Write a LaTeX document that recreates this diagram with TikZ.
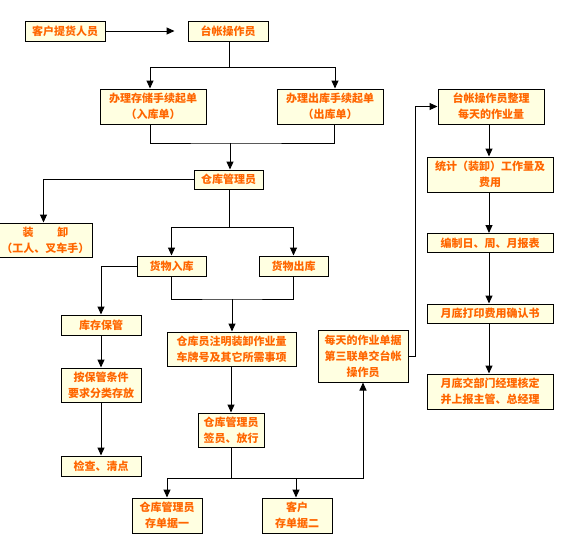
\documentclass[tikz,border=0pt]{standalone}
\usepackage{fontspec}
\newfontfamily\cjk{Noto Sans CJK SC}
\usetikzlibrary{arrows.meta}
\definecolor{txtor}{RGB}{255,102,0}
\definecolor{boxfill}{RGB}{255,255,225}
\tikzset{
  box/.style={draw=black, line width=1pt, fill=boxfill, inner sep=0pt, align=center,
    text=txtor, font=\cjk\bfseries\fontsize{11}{16}\selectfont},
  arr/.style={line width=1pt, -{Triangle[width=7pt,length=8pt]}},
  ln/.style={line width=1pt}
}
\begin{document}
\begin{tikzpicture}[x=1pt,y=-1pt]
\useasboundingbox (0,0) rectangle (578,539);
\fill[white] (0,0) rectangle (578,539);
% nodes
\node[box, minimum width=80, minimum height=20] (kh) at (65,31) {客户提货人员};
\node[box, minimum width=80, minimum height=20] (tz) at (228,31) {台帐操作员};
\node[box, minimum width=106, minimum height=35] (rk) at (153,106.5) {办理存储手续起单\\（入库单）};
\node[box, minimum width=106, minimum height=35] (ck) at (330,106.5) {办理出库手续起单\\（出库单）};
\node[box, minimum width=69, minimum height=19] (cg) at (228.5,179.5) {仓库管理员};
\node[box, minimum width=93, minimum height=34] (zx) at (45.5,240) {装\hspace{24pt}卸\\（工人、叉车手）};
\node[box, minimum width=69, minimum height=20] (hr) at (171.5,266) {货物入库};
\node[box, minimum width=69, minimum height=20] (hc) at (293.5,266) {货物出库};
\node[box, minimum width=80, minimum height=20] (kc) at (101,325) {库存保管};
\node[box, minimum width=80, minimum height=34] (ab) at (101,385) {按保管条件\\要求分类存放};
\node[box, minimum width=80, minimum height=20] (jc) at (101,466) {检查、清点};
\node[box, minimum width=129, minimum height=34] (zm) at (231.5,349) {仓库员注明装卸作业量\\车牌号及其它所需事项};
\node[box, minimum width=66, minimum height=34] (qy) at (231,430) {仓库管理员\\签员、放行};
\node[box, minimum width=70, minimum height=35] (d1) at (167,515.5) {仓库管理员\\存单据一};
\node[box, minimum width=70, minimum height=35] (d2) at (297,515.5) {客户\\存单据二};
\node[box, minimum width=90, minimum height=52] (mt) at (363,356) {每天的作业单据\\第三联单交台帐\\操作员};
\node[box, minimum width=106, minimum height=35] (zl) at (491,106.5) {台帐操作员整理\\每天的作业量};
\node[box, minimum width=126, minimum height=35] (tj) at (490,174.5) {统计（装卸）工作量及\\费用};
\node[box, minimum width=126, minimum height=19] (bb) at (490,243) {编制日、周、月报表};
\node[box, minimum width=126, minimum height=19] (yd) at (490,313.5) {月底打印费用确认书};
\node[box, minimum width=126, minimum height=35] (hd) at (490,391.5) {月底交部门经理核定\\并上报主管、总经理};
% junctions
\coordinate (j0) at (229,67);
\coordinate (j1) at (230,143);
\coordinate (j2) at (229.5,227);
\coordinate (j3) at (232,299);
\coordinate (j4) at (231,478);
% connectors
\draw[arr, shorten >=13pt] (kh.east) -- (tz.west);
\draw[ln] (tz.south -| j0) -- (j0);
\draw[arr] (j0) -| ([xshift=-3pt]rk.north);
\draw[arr] (j0) -| ([xshift=5pt]ck.north);
\draw[ln] ([xshift=-3pt]rk.south) |- (j1) -| ([xshift=4pt]ck.south);
\draw[arr] (j1) -- (cg.north -| j1);
\draw[arr] (cg.west) -| ([xshift=-2pt]zx.north);
\draw[ln] (cg.south -| j2) -- (j2);
\draw[arr] (j2) -| (hr.north);
\draw[arr] (j2) -| (hc.north);
\draw[arr] (hr.west) -| (kc.north);
\draw[ln] (hr.south) |- (j3) -| (hc.south);
\draw[arr] (j3) -- (zm.north -| j3);
\draw[arr] (kc) -- (ab);
\draw[arr] (ab) -- (jc);
\draw[arr] (zm.south -| qy) -- (qy.north);
\draw[ln] (qy.south) -- (j4);
\draw[arr] (j4) -| (d1.north);
\draw[arr] (j4) -| ([xshift=-1pt]d2.north);
\draw[arr] (j4) -| (mt.south);
\draw[arr] (mt.east) -- ++(7,0) |- (zl.west);
\draw[arr] ([xshift=-2pt]zl.south) -- ([xshift=-1pt]tj.north);
\draw[arr] ([xshift=-1pt]tj.south) -- ([xshift=-1pt]bb.north);
\draw[arr] ([xshift=-1pt]bb.south) -- ([xshift=-1pt]yd.north);
\draw[arr] ([xshift=-1pt]yd.south) -- ([xshift=-1pt]hd.north);
\end{tikzpicture}
\end{document}
